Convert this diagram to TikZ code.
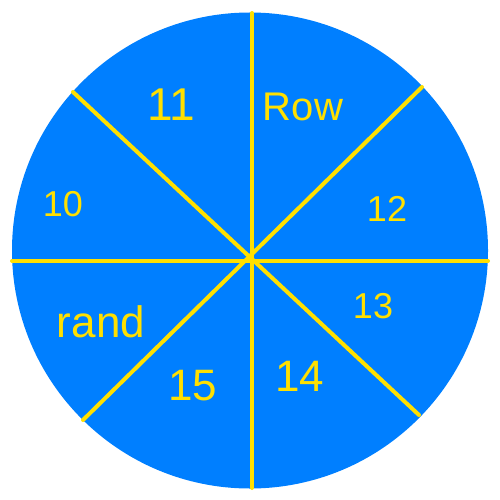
\documentclass[tikz,border=0pt]{standalone}
\usepackage{fontspec}
\setmainfont{Liberation Sans}
\definecolor{wheelblue}{RGB}{0,127,255}
\definecolor{wheelyellow}{RGB}{255,224,0}
\begin{document}
\begin{tikzpicture}[x=1pt,y=-1pt,
  spoke/.style={draw=wheelyellow,line width=4pt,line cap=round},
  lbl/.style={text=wheelyellow,inner sep=0pt,font=\fontsize{36}{36}\selectfont}]
\useasboundingbox (0,0) rectangle (500,500);
\fill[wheelblue] (250,250.5) circle[radius=238];
\coordinate (c) at (252,261);
\coordinate (t) at (252,13);
\coordinate (b) at (252,488);
\coordinate (l) at (12,261);
\coordinate (r) at (488,261);
\coordinate (ul) at (73,92);
\coordinate (ur) at (422,87);
\coordinate (ll) at (83,420);
\coordinate (lr) at (419,415);
\draw[spoke] (t) -- (b);
\draw[spoke] (l) -- (r);
\draw[spoke] (ul) -- (lr);
\draw[spoke] (ur) -- (ll);
\node[lbl,font=\fontsize{46}{46}\selectfont] (n11) at (171,105) {11};
\node[lbl,font=\fontsize{40}{40}\selectfont] (nrow) at (303,107) {Row};
\node[lbl] (n12) at (387,209) {12};
\node[lbl] (n10) at (63,204) {10};
\node[lbl,font=\fontsize{44}{44}\selectfont] (nrand) at (101,322) {rand};
\node[lbl] (n13) at (373,306) {13};
\node[lbl,font=\fontsize{44}{44}\selectfont] (n15) at (193,386) {15};
\node[lbl,font=\fontsize{44}{44}\selectfont] (n14) at (300,376) {14};
\end{tikzpicture}
\end{document}
